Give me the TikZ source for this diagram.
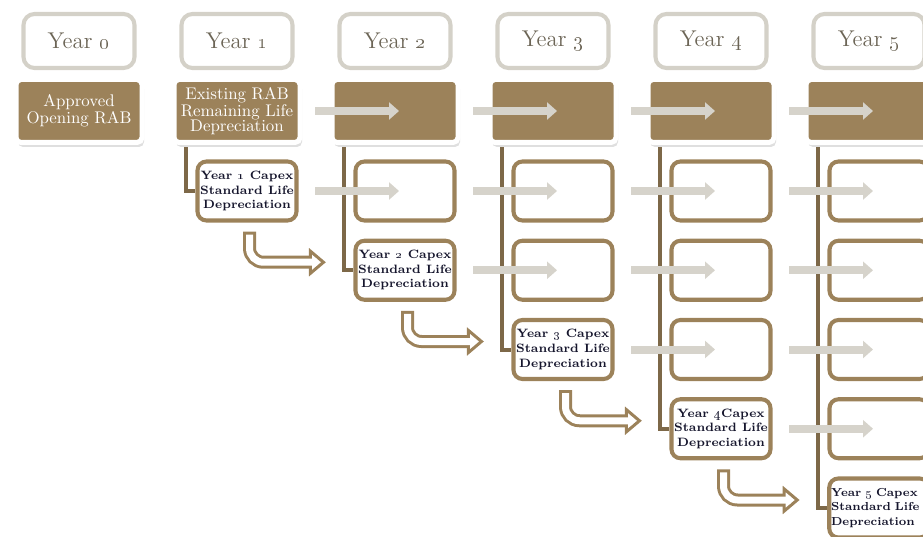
\documentclass[tikz,border=0pt]{standalone}
\usetikzlibrary{arrows.meta,shadows}

\definecolor{rabbrown}{RGB}{156,130,90}
\definecolor{treebrown}{RGB}{125,104,72}
\definecolor{arrowgray}{RGB}{214,211,203}
\definecolor{hdrgray}{RGB}{212,209,200}
\definecolor{hdrtext}{RGB}{108,101,86}
\definecolor{captext}{RGB}{22,22,45}

\tikzset{
	yearbox/.style={draw=hdrgray, line width=2.3pt, fill=white, rounded corners=0.22cm,
		minimum width=2.22cm, minimum height=1.08cm, text=hdrtext,
		font=\fontsize{13}{15}\selectfont},
	rabbox/.style={draw=white, line width=0.1cm, fill=rabbrown, rounded corners=0.1cm,
		minimum width=2.52cm, minimum height=1.26cm, inner sep=1pt, align=center,
		text=white, font=\fontsize{9.6}{9.8}\selectfont,
		drop shadow={shadow xshift=0.04cm, shadow yshift=-0.09cm, opacity=0.25}},
	capbox/.style={draw=rabbrown, line width=2.3pt, fill=white, rounded corners=0.18cm,
		minimum width=1.98cm, minimum height=1.18cm, inner sep=1pt, align=center,
		text=captext, font=\fontsize{6.9}{8.3}\selectfont\bfseries},
	treeline/.style={draw=treebrown, line width=0.08cm},
	grayarrow/.style={draw=arrowgray, line width=0.16cm, -{Triangle[length=0.2cm, width=0.34cm]}},
	hookout/.style={draw=rabbrown, line width=0.26cm, rounded corners=0.28cm},
	hookin/.style={draw=white, line width=0.14cm, rounded corners=0.28cm},
	hookhead/.style={draw=rabbrown, line width=0.06cm, fill=white}
}

\begin{document}
\begin{tikzpicture}

	\useasboundingbox (0,0) rectangle (18.46,-10.74);

	% draw year headers
	\foreach \c in {0,...,5}
	{
		\node[yearbox] (yr_\c) at (1.58+3.16*\c, -0.82) {Year \oldstylenums{\c}};
	}

	% draw RAB row
	\node[rabbox] (rab_0) at (1.58, -2.22) {Approved\\Opening RAB};
	\node[rabbox, font=\fontsize{9.6}{8.6}\selectfont] (rab_1) at (4.74, -2.22) {Existing RAB\\Remaining Life\\Depreciation};
	\foreach \c in {2,...,5}
	{
		\node[rabbox] (rab_\c) at (1.58+3.16*\c, -2.22) {};
	}

	% draw capex boxes
	\foreach \c [evaluate=\c as \m using int(\c-1)] in {2,...,5}
	{
		\foreach \r in {1,...,\m}
		{
			\node[capbox] (cap_\c_\r) at (1.78+3.16*\c, -2.235-1.585*\r) {};
		}
	}
	\foreach \c/\yr in {1/{Year \oldstylenums{1} Capex}, 2/{Year \oldstylenums{2} Capex},
		3/{Year \oldstylenums{3} Capex}, 4/{Year \oldstylenums{4}Capex}}
	{
		\node[capbox] (cap_\c_\c) at (1.78+3.16*\c, -2.235-1.585*\c) {\yr\\Standard Life\\Depreciation};
	}
	% last one sits at the page edge
	\node[capbox, font=\fontsize{6.6}{8.3}\selectfont\bfseries, align=left, text width=1.92cm]
		(cap_5_5) at (1.78+3.16*5, -2.235-1.585*5) {Year \oldstylenums{5} Capex\\Standard Life\\Depreciation};

	% draw tree lines
	\foreach \c in {1,...,5}
	{
		\draw[treeline] ([xshift=-1.02cm, yshift=-0.05cm]rab_\c.south) |- (cap_\c_\c.west);
	}
	\draw[treeline] ([xshift=-1.02cm, yshift=-0.05cm]rab_4.south) |- (cap_4_2.west);

	% draw gray arrows
	\foreach \c in {2,...,5}
	{
		\draw[grayarrow] ([xshift=-1.6cm]rab_\c.center) -- ([xshift=0.08cm]rab_\c.center);
	}
	\foreach \r [evaluate=\r as \s using int(\r+1)] in {1,...,4}
	{
		\foreach \c in {\s,...,5}
		{
			\draw[grayarrow] ([xshift=-1.8cm]cap_\c_\r.center) -- ([xshift=-0.12cm]cap_\c_\r.center);
		}
	}

	% draw hook arrows
	\foreach \c [evaluate=\c as \n using int(\c+1)] in {1,...,4}
	{
		\coordinate (hs_\c) at ([xshift=0.05cm, yshift=-0.18cm]cap_\c_\c.south);
		\coordinate (ht_\c) at ([xshift=-0.6cm, yshift=0.16cm]cap_\n_\n.west);
		\draw[hookout] (hs_\c) |- ([xshift=-0.26cm]ht_\c);
		\draw[hookhead] (ht_\c) -- ++(-0.26,0.22) -- ++(0,-0.44) -- cycle;
		\draw[hookin] ([yshift=-0.06cm]hs_\c) |- ([xshift=-0.13cm]ht_\c);
	}

\end{tikzpicture}
\end{document}
